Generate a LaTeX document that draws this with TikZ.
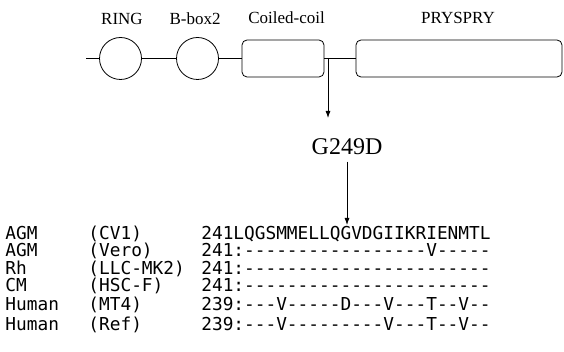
\documentclass[tikz,border=0pt]{standalone}
\usepackage{fontspec}
\setmainfont{Liberation Serif}
\newfontfamily\seqfont{DejaVu Sans Mono}
\usetikzlibrary{arrows.meta}
\begin{document}
\begin{tikzpicture}[x=1pt,y=-1pt,line width=0.8pt,
  dom/.style={draw,circle,minimum size=42pt,inner sep=0pt},
  rbox/.style={draw,rounded corners=5pt,inner sep=0pt,minimum height=37pt},
  lbl/.style={font=\fontsize{17}{20}\selectfont,inner sep=0pt,anchor=base},
  mutlbl/.style={font=\fontsize{24}{28}\selectfont,inner sep=0pt,anchor=base},
  seq/.style={font=\seqfont\fontsize{17.8}{20}\selectfont,inner sep=0pt,anchor=base west},
  arr/.style={-{Latex[length=7pt,width=5pt]}}]
\useasboundingbox (0,0) rectangle (564,352);
% domain map
\coordinate (start) at (86,58.5);
\node[dom] (ring) at (120.5,58.5) {};
\node[dom] (bbox) at (197.5,58.5) {};
\node[rbox,minimum width=82pt] (cc) at (283,58.5) {};
\node[rbox,minimum width=206pt] (pry) at (459,58.5) {};
\draw (start) -- (ring) -- (bbox) -- (cc) -- (pry);
\node[lbl] (lring) at (122,25) {RING};
\node[lbl] (lbbox) at (195,25) {B-box2};
\node[lbl] (lcc) at (286.5,24) {Coiled-coil};
\node[lbl] (lpry) at (458,24) {PRYSPRY};
\coordinate (jn) at (328,58.5);
\coordinate (tip1) at (328,118);
\draw[arr] (jn) -- (tip1);
% mutation
\node[mutlbl] (mut) at (347,155) {G249D};
\coordinate (tip2) at (347,225);
\draw[arr,shorten <=6pt] (mut.south) -- (tip2);
% alignment
\node[seq] (sp1) at (5,240) {AGM};
\node[seq] (st1) at (88,240) {(CV1)};
\node[seq] (nb1) at (201,240) {241};
\node[seq] (rs1) at (233,240) {LQGSMMELLQGVDGIIKRIENMTL};
\node[seq] (sp2) at (5,257) {AGM};
\node[seq] (st2) at (88,257) {(Vero)};
\node[seq] (nb2) at (201,257) {241};
\node[seq] (rs2) at (233,257) {:-----------------V-----};
\node[seq] (sp3) at (5,274) {Rh};
\node[seq] (st3) at (88,274) {(LLC-MK2)};
\node[seq] (nb3) at (201,274) {241};
\node[seq] (rs3) at (233,274) {:-----------------------};
\node[seq] (sp4) at (5,291.5) {CM};
\node[seq] (st4) at (88,291.5) {(HSC-F)};
\node[seq] (nb4) at (201,291.5) {241};
\node[seq] (rs4) at (233,291.5) {:-----------------------};
\node[seq] (sp5) at (5,310) {Human};
\node[seq] (st5) at (88,310) {(MT4)};
\node[seq] (nb5) at (201,310) {239};
\node[seq] (rs5) at (233,310) {:---V-----D---V---T--V--};
\node[seq] (sp6) at (5,330) {Human};
\node[seq] (st6) at (88,330) {(Ref)};
\node[seq] (nb6) at (201,330) {239};
\node[seq] (rs6) at (233,330) {:---V---------V---T--V--};
\end{tikzpicture}
\end{document}
